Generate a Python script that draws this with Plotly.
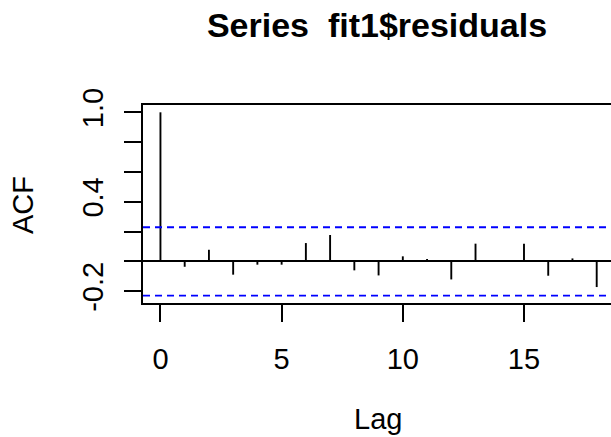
import plotly.graph_objects as go

# ACF values
lags = list(range(0, 19))
acf = [1.0, -0.036, 0.078, -0.089, -0.022, -0.022, 0.123, 0.177, -0.060, -0.094,
       0.034, 0.016, -0.121, 0.119, 0.009, 0.119, -0.096, 0.020, -0.172]
clim = 0.229
x_ticks = [0, 5, 10, 15]
y_ticks = [-0.2, 0.0, 0.2, 0.4, 0.6, 0.8, 1.0]
y_ticklabels = ["-0.2", "", "", "0.4", "", "", "1.0"]

FONT = "Liberation Sans, Arial, sans-serif"

xs, ys = [], []
for l, a in zip(lags, acf):
    xs += [l, l, None]
    ys += [0, a, None]

fig = go.Figure()
fig.add_trace(go.Scatter(x=xs, y=ys, mode="lines",
                         line=dict(color="black", width=1.9),
                         showlegend=False, hoverinfo="skip"))

xr = [-0.72, 18.59]
for c in (clim, -clim):
    fig.add_trace(go.Scatter(x=xr, y=[c, c], mode="lines",
                             line=dict(color="#0000ff", width=1.8, dash="7px,5px"),
                             showlegend=False, hoverinfo="skip"))

fig.update_layout(
    width=611, height=437,
    margin=dict(l=143, r=0, t=105, b=134),
    paper_bgcolor="white", plot_bgcolor="white",
    font=dict(family=FONT, color="black", size=29),
    title=dict(text="Series\u00a0 fit1$residuals", x=0.5, xref="paper",
               y=1 - 25 / 437, yref="container", yanchor="middle", xanchor="center",
               font=dict(family=FONT, size=34, weight="bold", color="black")),
    xaxis=dict(range=xr, tickvals=x_ticks, ticktext=[str(v) for v in x_ticks],
               ticks="outside", ticklen=17, tickwidth=1.8, tickcolor="black",
               showline=True, linecolor="black", linewidth=1.8, mirror=True,
               showgrid=False, zeroline=False, ticklabelstandoff=12,
               tickfont=dict(size=29, family=FONT)),
    yaxis=dict(range=[-0.279, 1.049], tickvals=y_ticks, ticktext=y_ticklabels,
               ticks="outside", ticklen=17, tickwidth=1.8, tickcolor="black",
               showline=True, linecolor="black", linewidth=1.8, mirror=False,
               showgrid=False, zeroline=True, zerolinecolor="black", zerolinewidth=1.8,
               ticklabelstandoff=10,
               tickangle=-90, tickfont=dict(size=29, family=FONT)),
    annotations=[
        dict(text="ACF", textangle=-90, xref="paper", yref="paper",
             x=(23 - 143) / 468, y=(303 - 205) / 198, xanchor="center", yanchor="middle",
             showarrow=False, font=dict(size=29, family=FONT)),
        dict(text="Lag", xref="paper", yref="paper",
             x=(378 - 143) / 468, y=-(437 - 303) / 198, xanchor="center", yanchor="bottom",
             showarrow=False, font=dict(size=29, family=FONT)),
    ],
)

fig.write_html("out.html")
